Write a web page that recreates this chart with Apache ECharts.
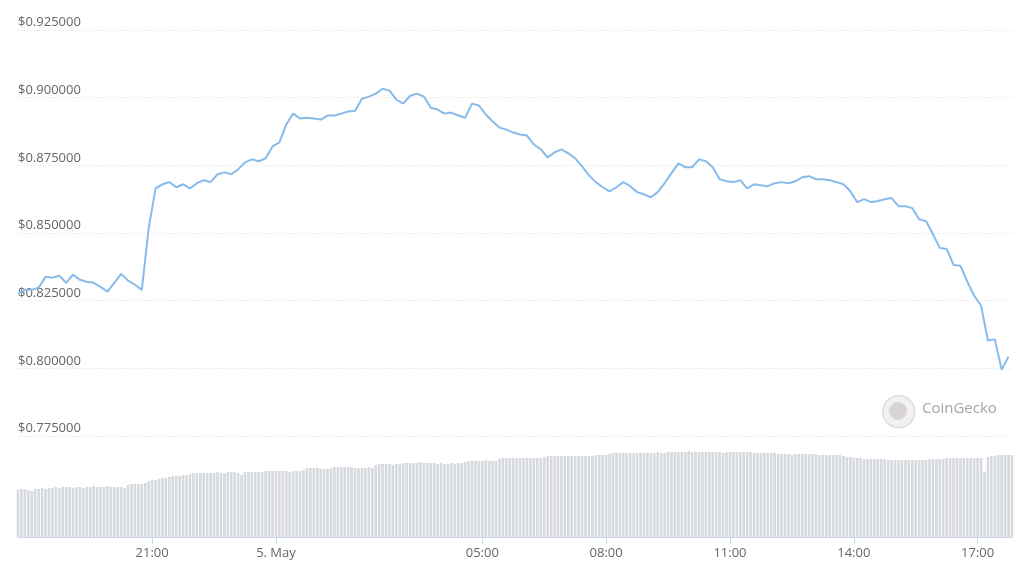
<!DOCTYPE html>
<html>
<head>
<meta charset="utf-8">
<script src="https://cdn.jsdelivr.net/npm/echarts@6/dist/echarts.min.js"></script>
<style>
html,body{margin:0;padding:0;background:#fff;}
#chart{width:1024px;height:584px;}
</style>
</head>
<body>
<div id="chart"></div>
<script>
// Time range: 4 May 17:45 to 5 May 17:50 (local)
var startTime = new Date(2021, 4, 4, 17, 45, 0).getTime();
var endTime = new Date(2021, 4, 5, 17, 50, 0).getTime();
var priceStepMin = 10;
var volumeStepMin = 5;

// Price (USD), one reading every 10 minutes
var priceValues = [
  0.8276,0.8290,0.8290,0.8298,0.8338,0.8335,0.8342,0.8316,0.8346,0.8327,
  0.8320,0.8316,0.8301,0.8283,0.8316,0.8349,0.8324,0.8309,0.8290,0.8518,
  0.8665,0.8680,0.8688,0.8669,0.8680,0.8665,0.8684,0.8695,0.8688,0.8717,
  0.8724,0.8717,0.8735,0.8761,0.8772,0.8765,0.8776,0.8820,0.8835,0.8901,
  0.8941,0.8923,0.8926,0.8923,0.8919,0.8934,0.8934,0.8941,0.8949,0.8952,
  0.8996,0.9004,0.9015,0.9033,0.9026,0.8993,0.8978,0.9007,0.9015,0.9004,
  0.8963,0.8956,0.8941,0.8945,0.8934,0.8926,0.8978,0.8971,0.8938,0.8912,
  0.8890,0.8882,0.8871,0.8864,0.8860,0.8827,0.8809,0.8779,0.8798,0.8809,
  0.8794,0.8776,0.8746,0.8713,0.8688,0.8669,0.8654,0.8669,0.8688,0.8673,
  0.8651,0.8643,0.8632,0.8651,0.8684,0.8721,0.8757,0.8743,0.8743,0.8772,
  0.8765,0.8743,0.8699,0.8691,0.8688,0.8695,0.8665,0.8680,0.8676,0.8673,
  0.8684,0.8688,0.8684,0.8691,0.8706,0.8710,0.8699,0.8699,0.8695,0.8688,
  0.8680,0.8654,0.8614,0.8625,0.8614,0.8618,0.8625,0.8629,0.8599,0.8599,
  0.8592,0.8551,0.8544,0.8496,0.8445,0.8441,0.8382,0.8379,0.8320,0.8268,
  0.8232,0.8103,0.8107,0.7995,0.8044
];

// Volume (relative units), one bar every 5 minutes
var volumeValues = [
  47,48,48,47,46,48,48,49,48,49,
  49,50,49,50,50,50,49,50,50,49,
  50,50,51,50,50,50,51,50,50,50,
  50,49,52,53,53,53,53,54,56,57,
  57,58,59,59,60,61,61,61,62,62,
  63,64,64,64,64,64,64,64,65,64,
  64,65,65,65,64,62,65,65,65,65,
  65,65,66,66,66,66,66,66,66,65,
  66,66,66,67,69,69,69,69,68,68,
  68,69,70,70,70,70,70,70,69,69,
  69,69,70,69,72,73,73,73,73,72,
  73,73,74,74,74,74,74,75,74,74,
  74,74,73,74,73,73,74,73,74,74,
  75,76,76,76,76,76,77,76,76,76,
  78,79,79,79,79,79,79,79,79,79,
  79,79,79,80,81,81,81,81,81,81,
  81,81,81,81,81,81,81,81,82,82,
  82,82,83,84,84,84,84,84,84,84,
  84,84,84,84,84,84,85,84,84,85,
  85,85,85,85,85,86,85,85,85,85,
  85,85,85,85,85,84,85,85,85,85,
  85,85,85,85,84,84,84,84,84,84,
  84,83,83,83,83,82,83,83,83,83,
  83,83,83,82,82,82,82,82,82,82,
  81,80,80,79,79,79,78,78,78,78,
  78,78,78,77,77,77,77,77,77,77,
  77,77,77,77,77,78,78,78,78,78,
  79,79,79,79,79,79,79,79,79,79,
  79,65,80,81,81,82,82,82,82,82
];

// X-axis tick labels
var tickTimes = [
  new Date(2021, 4, 4, 21, 0).getTime(),
  new Date(2021, 4, 5, 0, 0).getTime(),
  new Date(2021, 4, 5, 5, 0).getTime(),
  new Date(2021, 4, 5, 8, 0).getTime(),
  new Date(2021, 4, 5, 11, 0).getTime(),
  new Date(2021, 4, 5, 14, 0).getTime(),
  new Date(2021, 4, 5, 17, 0).getTime()
];
var tickLabels = ['21:00', '5. May', '05:00', '08:00', '11:00', '14:00', '17:00'];

var priceData = priceValues.map(function (v, i) {
  return [startTime + i * priceStepMin * 60000, v];
});
var volumeData = volumeValues.map(function (v, i) {
  return [startTime + i * volumeStepMin * 60000, v];
});

var FONT = '"Open Sans", "DejaVu Sans", sans-serif';
var chart = echarts.init(document.getElementById('chart'), null, {renderer: 'canvas'});
chart.setOption({
  animation: false,
  backgroundColor: '#ffffff',
  grid: [
    {left: 18, right: 12, top: 30, height: 406},
    {left: 18, right: 12, top: 437, height: 100}
  ],
  xAxis: [
    {
      type: 'value', gridIndex: 0, min: startTime, max: endTime,
      axisLine: {show: false}, axisTick: {show: false}, axisLabel: {show: false},
      splitLine: {show: false}
    },
    {
      type: 'value', gridIndex: 1, min: startTime, max: endTime,
      axisLine: {show: true, onZero: false, lineStyle: {color: '#ccd6eb', width: 1}},
      axisTick: {show: true, customValues: tickTimes, length: 7, lineStyle: {color: '#ccd6eb'}},
      axisLabel: {
        show: true, customValues: tickTimes, color: '#666666', fontSize: 13, fontFamily: FONT, margin: 10,
        formatter: function (val) {
          var idx = tickTimes.indexOf(val);
          return idx >= 0 ? tickLabels[idx] : '';
        }
      },
      splitLine: {show: false}
    }
  ],
  yAxis: [
    {
      type: 'value', gridIndex: 0, min: 0.775, max: 0.925, interval: 0.025,
      axisLine: {show: false}, axisTick: {show: false},
      axisLabel: {
        inside: true, color: '#666666', fontSize: 13, fontFamily: FONT,
        verticalAlign: 'bottom', margin: 0, padding: [0, 0, 1, 0],
        formatter: function (v) { return '$' + v.toFixed(6); }
      },
      splitLine: {show: true, lineStyle: {color: '#eeeeee', width: 1, type: [2, 1]}}
    },
    {
      type: 'value', gridIndex: 1, min: 0, max: 100,
      show: false, splitLine: {show: false}
    }
  ],
  graphic: [
    {
      type: 'circle', left: 882, top: 395, z: 100,
      shape: {r: 16},
      style: {fill: '#f1f1f1', stroke: '#dcdcdc', lineWidth: 1.5}
    },
    {
      type: 'circle', left: 889, top: 402, z: 101,
      shape: {r: 9},
      style: {fill: '#d8d4d4'}
    },
    {
      type: 'text', left: 922, top: 401, z: 100,
      style: {text: 'CoinGecko', fill: '#aaa3a3', font: '15px ' + FONT}
    }
  ],
  series: [
    {
      name: 'Volume', type: 'bar', xAxisIndex: 1, yAxisIndex: 1,
      data: volumeData, barWidth: 2.6, itemStyle: {color: '#d6d9de'},
      silent: true
    },
    {
      name: 'Price', type: 'line', xAxisIndex: 0, yAxisIndex: 0,
      data: priceData, showSymbol: false, smooth: false,
      lineStyle: {color: '#87bbec', width: 2}, silent: true
    }
  ]
});
</script>
</body>
</html>
